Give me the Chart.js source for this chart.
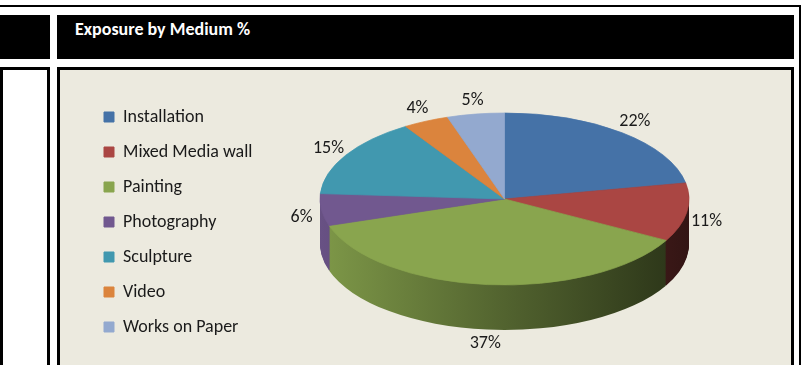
<!DOCTYPE html>
<html><head><meta charset="utf-8">
<script src="https://cdn.jsdelivr.net/npm/chart.js@4"></script>
<style>
html,body{margin:0;padding:0;width:801px;height:365px;overflow:hidden;background:#fff;}
.b{position:absolute;background:#000;}
#title{position:absolute;left:57px;top:15px;width:737px;height:44px;background:#000;}
#title span{position:absolute;left:18px;top:3px;line-height:22px;color:#fff;font:bold 18px Calibri,Carlito,Lato,sans-serif;white-space:nowrap;}
#cell{position:absolute;left:60px;top:70px;width:731px;height:295px;background:#ECEADF;}
canvas{display:block;}
</style></head>
<body>
<div class="b" style="left:0;top:5px;width:801px;height:2px"></div>
<div class="b" style="left:799px;top:5px;width:2px;height:360px"></div>
<div class="b" style="left:0;top:15px;width:50px;height:44px"></div>
<div id="title"><span>Exposure by Medium %</span></div>
<div class="b" style="left:0;top:67px;width:50px;height:3px"></div>
<div class="b" style="left:0;top:67px;width:3px;height:298px"></div>
<div class="b" style="left:47px;top:67px;width:3px;height:298px"></div>
<div class="b" style="left:57px;top:67px;width:737px;height:3px"></div>
<div class="b" style="left:57px;top:67px;width:3px;height:298px"></div>
<div class="b" style="left:791px;top:67px;width:3px;height:298px"></div>
<div id="cell"><canvas id="c" width="731" height="295"></canvas></div>
<script>
const categories = ['Installation', 'Mixed Media wall', 'Painting', 'Photography', 'Sculpture', 'Video', 'Works on Paper'];
const shares = [22, 11, 37, 6, 15, 4, 5];
const colors = ['#4572A7', '#AA4643', '#89A54E', '#71588F', '#4198AF', '#DB843D', '#93A9CF'];

const FONT = 'Calibri, Carlito, Lato, sans-serif';
const PIE = {x: 444.5, y: 129, tilt: 0.466, depth: 45};

function shade(hex, f) {
  const n = parseInt(hex.slice(1), 16);
  const r = Math.round(((n >> 16) & 255) * f), g = Math.round(((n >> 8) & 255) * f), b = Math.round((n & 255) * f);
  return 'rgb(' + r + ',' + g + ',' + b + ')';
}

const tiltPlugin = {
  id: 'tilt3d',
  beforeDatasetsDraw(chart) {
    const ctx = chart.ctx;
    const meta = chart.getDatasetMeta(0);
    const a0 = meta.data[0];
    const cx = a0.x, cy = a0.y, r = a0.outerRadius;
    const tilt = (c) => { c.translate(PIE.x, PIE.y); c.scale(1, PIE.tilt); c.translate(-cx, -cy); };
    const grads = meta.data.map((arc, i) => {
      const g = ctx.createLinearGradient(cx - r, 0, cx + r, 0);
      const base = colors[i];
      g.addColorStop(0, shade(base, 0.92));
      g.addColorStop(0.5, shade(base, 0.6));
      g.addColorStop(1, shade(base, 0.3));
      return g;
    });
    for (let d = PIE.depth; d >= 1; d--) {
      ctx.save();
      ctx.translate(0, d);
      tilt(ctx);
      meta.data.forEach((arc, i) => {
        const o = arc.options;
        arc.options = Object.assign({}, o, {backgroundColor: grads[i], borderColor: grads[i], borderWidth: 0});
        arc.draw(ctx);
        arc.options = o;
      });
      ctx.restore();
    }
    ctx.save();
    tilt(ctx);
  },
  afterDatasetsDraw(chart) {
    const ctx = chart.ctx;
    ctx.restore();
    const meta = chart.getDatasetMeta(0);
    const ds = chart.data.datasets[0].data;
    ctx.save();
    ctx.font = '18px ' + FONT;
    ctx.fillStyle = '#1a1a1a';
    ctx.textAlign = 'center';
    ctx.textBaseline = 'middle';
    meta.data.forEach((arc, i) => {
      const mid = (arc.startAngle + arc.endAngle) / 2;
      const r = arc.outerRadius;
      const c = Math.cos(mid), s = Math.sin(mid);
      const ex = PIE.x + r * c;
      const ey = PIE.y + r * PIE.tilt * s + (s > 0 ? PIE.depth * s : 0);
      ctx.fillText(ds[i] + '%', ex + c * 20, ey + s * 14);
    });
    ctx.restore();
  }
};

new Chart(document.getElementById('c'), {
  type: 'pie',
  data: {
    labels: categories,
    datasets: [{
      data: shares,
      backgroundColor: colors,
      borderColor: colors,
      borderWidth: 1,
      radius: 184.5,
      clip: false
    }]
  },
  options: {
    responsive: false,
    animation: false,
    devicePixelRatio: 1,
    events: [],
    layout: {padding: {left: 27, top: 21, right: 0, bottom: 0}},
    plugins: {
      tooltip: {enabled: false},
      legend: {
        position: 'left',
        align: 'start',
        labels: {
          boxWidth: 10,
          boxHeight: 10,
          padding: 17,
          color: '#1a1a1a',
          font: {family: FONT, size: 18}
        }
      }
    }
  },
  plugins: [tiltPlugin]
});
</script>
</body></html>
